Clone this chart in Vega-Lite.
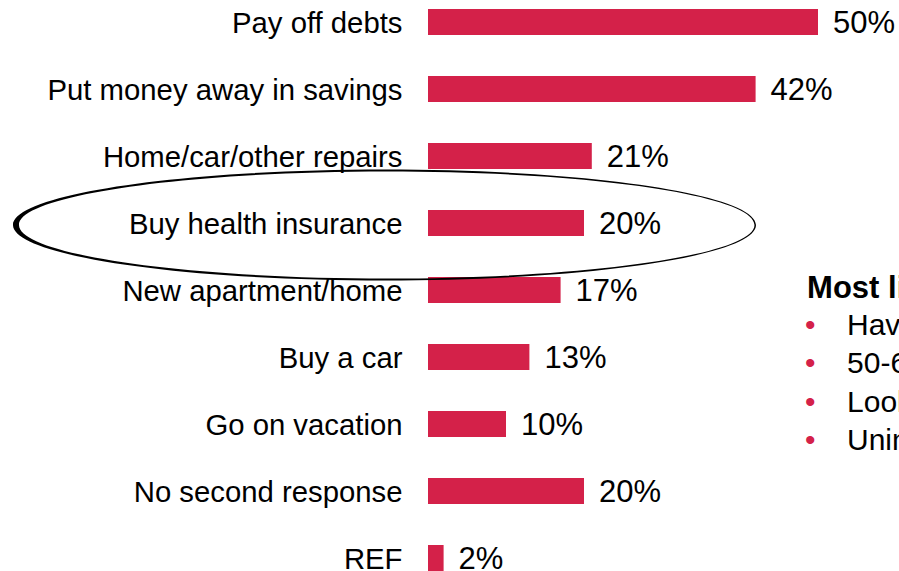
{
  "$schema": "https://vega.github.io/schema/vega-lite/v6.json",
  "width": 468,
  "height": 571,
  "autosize": {"type": "none"},
  "padding": {"left": 428, "top": 0, "right": 3, "bottom": 0},
  "background": "white",
  "config": {"view": {"stroke": null}, "font": "Liberation Sans"},
  "data": {
    "values": [
      {"item": "Pay off debts", "pct": 0.50},
      {"item": "Put money away in savings", "pct": 0.42},
      {"item": "Home/car/other repairs", "pct": 0.21},
      {"item": "Buy health insurance", "pct": 0.20},
      {"item": "New apartment/home", "pct": 0.17},
      {"item": "Buy a car", "pct": 0.13},
      {"item": "Go on vacation", "pct": 0.10},
      {"item": "No second response", "pct": 0.20},
      {"item": "REF", "pct": 0.02}
    ]
  },
  "encoding": {
    "y": {
      "field": "item",
      "type": "nominal",
      "sort": null,
      "scale": {"paddingInner": 0.612, "paddingOuter": 0.067, "align": 1},
      "axis": {
        "title": null,
        "domain": false,
        "ticks": false,
        "labelPadding": 26,
        "labelFontSize": 29.3,
        "labelFont": "Liberation Sans",
        "labelColor": "black",
        "labelLimit": 600,
        "labelBaseline": "alphabetic",
        "labelOffset": 11
      }
    }
  },
  "layer": [
    {
      "mark": {"type": "bar", "color": "#D42149"},
      "encoding": {
        "x": {
          "field": "pct",
          "type": "quantitative",
          "scale": {"domain": [0, 0.6], "nice": false, "zero": true},
          "axis": null
        }
      }
    },
    {
      "mark": {"type": "text", "align": "left", "baseline": "alphabetic", "dx": 15, "dy": 11, "fontSize": 31, "font": "Liberation Sans", "color": "black"},
      "encoding": {
        "x": {"field": "pct", "type": "quantitative"},
        "text": {"field": "pct", "type": "quantitative", "format": ".0%"}
      }
    },
    {
      "data": {"values": [{"note": "Most likely to buy health insurance:"}]},
      "mark": {"type": "text", "align": "left", "baseline": "alphabetic", "dy": 8, "fontSize": 31, "fontWeight": "bold", "font": "Liberation Sans", "color": "black"},
      "encoding": {
        "x": {"datum": 0.486},
        "y": {"datum": "New apartment/home"},
        "text": {"field": "note"}
      }
    },
    {
      "data": {"values": [{"b": ["•", "•", "•", "•"]}]},
      "mark": {"type": "text", "align": "left", "baseline": "alphabetic", "dy": 45, "lineHeight": 38.3, "fontSize": 30, "font": "Liberation Sans", "color": "#D42149"},
      "encoding": {
        "x": {"datum": 0.4833},
        "y": {"datum": "New apartment/home"},
        "text": {"field": "b"}
      }
    },
    {
      "data": {"values": [{"t": ["Have children", "50-64 years old", "Looking for work", "Uninsured"]}]},
      "mark": {"type": "text", "align": "left", "baseline": "alphabetic", "dy": 45, "lineHeight": 38.3, "fontSize": 30, "font": "Liberation Sans", "color": "black"},
      "encoding": {
        "x": {"datum": 0.5372},
        "y": {"datum": "New apartment/home"},
        "text": {"field": "t"}
      }
    },
    {
      "data": {"values": [{"a": "Buy health insurance"}]},
      "mark": {
        "type": "point",
        "filled": true,
        "color": "black",
        "opacity": 1,
        "strokeWidth": 0,
        "size": 552049,
        "shape": "M-1.1171,0.0054C-1.1171,-0.0771,-0.6694,-0.144,-0.1171,-0.144C0.4352,-0.144,0.8829,-0.0771,0.8829,0.0054C0.8829,0.0879,0.4352,0.1548,-0.1171,0.1548C-0.6694,0.1548,-1.1171,0.0879,-1.1171,0.0054ZM-1.10095,0.0054C-1.10095,0.0849,-0.65775,0.1494,-0.11105,0.1494C0.43565,0.1494,0.87885,0.0849,0.87885,0.0054C0.87885,-0.0741,0.43565,-0.1386,-0.11105,-0.1386C-0.65775,-0.1386,-1.10095,-0.0741,-1.10095,0.0054Z"
      },
      "encoding": {
        "x": {"datum": 0},
        "y": {"field": "a", "type": "nominal"}
      }
    }
  ]
}
